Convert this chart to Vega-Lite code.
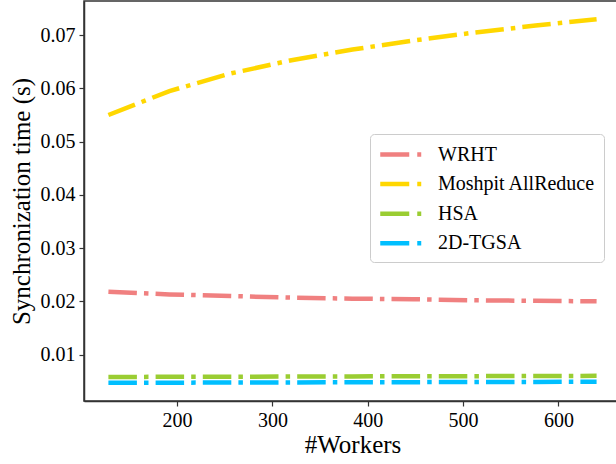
{
  "$schema": "https://vega.github.io/schema/vega-lite/v6.json",
  "width": 537,
  "height": 400,
  "autosize": {"type": "none"},
  "padding": {"left": 84, "top": 1, "right": 0, "bottom": 63},
  "background": "white",
  "config": {
    "view": {"stroke": "#333333", "strokeWidth": 1.5},
    "axis": {
      "grid": false,
      "domainColor": "#333333",
      "domainWidth": 1.5,
      "tickColor": "#333333",
      "tickWidth": 1.2,
      "tickSize": 5,
      "labelColor": "#000000",
      "labelPadding": 4,
      "titleFontWeight": "normal",
      "titleColor": "#000000"
    }
  },
  "data": {
    "values": [
      {"method": "WRHT", "workers": 128, "time": 0.0218},
      {"method": "WRHT", "workers": 192, "time": 0.0213},
      {"method": "WRHT", "workers": 256, "time": 0.0210},
      {"method": "WRHT", "workers": 320, "time": 0.0207},
      {"method": "WRHT", "workers": 384, "time": 0.0205},
      {"method": "WRHT", "workers": 448, "time": 0.0204},
      {"method": "WRHT", "workers": 512, "time": 0.0202},
      {"method": "WRHT", "workers": 576, "time": 0.0201},
      {"method": "WRHT", "workers": 640, "time": 0.0200},
      {"method": "Moshpit AllReduce", "workers": 128, "time": 0.0550},
      {"method": "Moshpit AllReduce", "workers": 192, "time": 0.0595},
      {"method": "Moshpit AllReduce", "workers": 256, "time": 0.0628},
      {"method": "Moshpit AllReduce", "workers": 320, "time": 0.0653},
      {"method": "Moshpit AllReduce", "workers": 384, "time": 0.0673},
      {"method": "Moshpit AllReduce", "workers": 448, "time": 0.0690},
      {"method": "Moshpit AllReduce", "workers": 512, "time": 0.0705},
      {"method": "Moshpit AllReduce", "workers": 576, "time": 0.0718},
      {"method": "Moshpit AllReduce", "workers": 640, "time": 0.0730},
      {"method": "HSA", "workers": 128, "time": 0.00580},
      {"method": "HSA", "workers": 192, "time": 0.00582},
      {"method": "HSA", "workers": 256, "time": 0.00585},
      {"method": "HSA", "workers": 320, "time": 0.00587},
      {"method": "HSA", "workers": 384, "time": 0.00590},
      {"method": "HSA", "workers": 448, "time": 0.00592},
      {"method": "HSA", "workers": 512, "time": 0.00595},
      {"method": "HSA", "workers": 576, "time": 0.00597},
      {"method": "HSA", "workers": 640, "time": 0.00600},
      {"method": "2D-TGSA", "workers": 128, "time": 0.00470},
      {"method": "2D-TGSA", "workers": 192, "time": 0.00472},
      {"method": "2D-TGSA", "workers": 256, "time": 0.00475},
      {"method": "2D-TGSA", "workers": 320, "time": 0.00477},
      {"method": "2D-TGSA", "workers": 384, "time": 0.00480},
      {"method": "2D-TGSA", "workers": 448, "time": 0.00482},
      {"method": "2D-TGSA", "workers": 512, "time": 0.00485},
      {"method": "2D-TGSA", "workers": 576, "time": 0.00487},
      {"method": "2D-TGSA", "workers": 640, "time": 0.00490}
    ]
  },
  "mark": {
    "type": "line",
    "strokeWidth": 4.5,
    "strokeDash": [28.5, 7.1, 4.5, 7.1],
    "strokeCap": "butt"
  },
  "encoding": {
    "x": {
      "field": "workers",
      "type": "quantitative",
      "scale": {"domain": [102.4, 665.6], "nice": false, "zero": false},
      "axis": {
        "values": [200, 300, 400, 500, 600],
        "title": "#Workers",
        "titlePadding": 2,
        "labelFont": "Liberation Serif",
        "titleFont": "Liberation Serif",
        "labelFontSize": 20,
        "titleFontSize": 25
      }
    },
    "y": {
      "field": "time",
      "type": "quantitative",
      "scale": {"domain": [0.00128, 0.07642], "nice": false, "zero": false},
      "axis": {
        "values": [0.01, 0.02, 0.03, 0.04, 0.05, 0.06, 0.07],
        "format": ".2f",
        "title": "Synchronization time (s)",
        "titlePadding": 6,
        "labelFont": "Liberation Serif",
        "titleFont": "Liberation Serif",
        "labelFontSize": 20,
        "titleFontSize": 25
      }
    },
    "color": {
      "field": "method",
      "type": "nominal",
      "sort": ["WRHT", "Moshpit AllReduce", "HSA", "2D-TGSA"],
      "scale": {
        "domain": ["WRHT", "Moshpit AllReduce", "HSA", "2D-TGSA"],
        "range": ["#F08080", "#FFD700", "#9ACD32", "#00BFFF"]
      },
      "legend": {
        "title": null,
        "orient": "none",
        "legendX": 286,
        "legendY": 133,
        "padding": 8,
        "rowPadding": 6.6,
        "symbolType": "M-1,0L3,0",
        "symbolSize": 420,
        "symbolStrokeWidth": 4.5,
        "symbolDash": [29, 8, 4, 8],
        "symbolFillColor": "transparent",
        "labelOffset": 35,
        "labelFont": "Liberation Serif",
        "labelFontSize": 20,
        "labelColor": "#000000",
        "strokeColor": "#cccccc",
        "fillColor": "#ffffff",
        "cornerRadius": 4
      }
    }
  }
}
